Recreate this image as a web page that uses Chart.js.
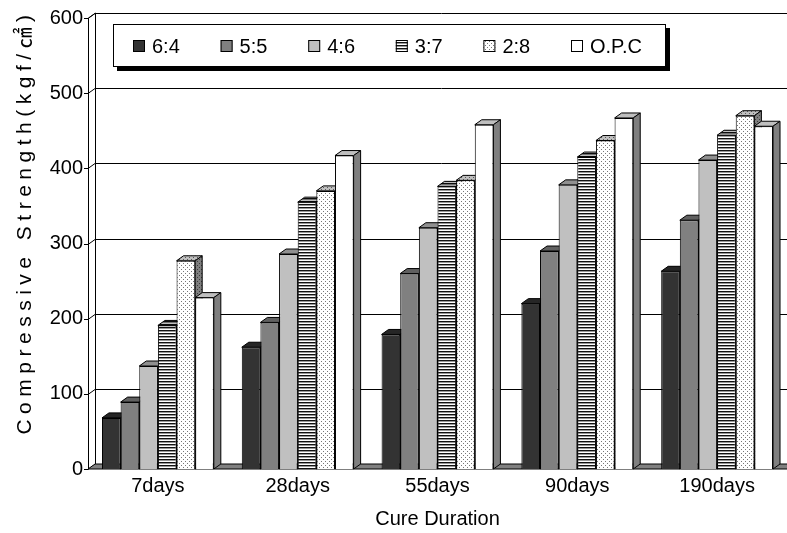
<!DOCTYPE html>
<html>
<head>
<meta charset="utf-8">
<script src="https://cdn.jsdelivr.net/npm/chart.js@4/dist/chart.umd.min.js"></script>
<style>
  html, body { margin: 0; padding: 0; background: #fff; }
</style>
</head>
<body>
<canvas id="chart" width="787" height="533"></canvas>
<script>
const categories = ['7days', '28days', '55days', '90days', '190days'];
const seriesNames = ['6:4', '5:5', '4:6', '3:7', '2:8', 'O.P.C'];
const mix64 = [68, 162, 179, 220, 263];
const mix55 = [89, 195, 260, 290, 331];
const mix46 = [137, 286, 321, 378, 411];
const mix37 = [191, 355, 376, 415, 444];
const mix28 = [277, 370, 384, 437, 470];
const opc = [228, 417, 458, 467, 456];
const yTicks = [0, 100, 200, 300, 400, 500, 600];

const FONT = '"Liberation Sans", Arial, "Noto Sans CJK KR", sans-serif';
const dx = 7, dy = -5; // fake 3D depth

function makeTile(w, h, draw) {
    const c = document.createElement('canvas');
    c.width = w; c.height = h;
    const g = c.getContext('2d');
    draw(g);
    return g.createPattern(c, 'repeat');
}

const stripes = makeTile(1, 3, g => {
    g.fillStyle = '#fff'; g.fillRect(0, 0, 1, 3);
    g.fillStyle = '#111'; g.fillRect(0, 0, 1, 1);
    g.fillStyle = '#999'; g.fillRect(0, 1, 1, 1);
});
const dots = makeTile(4, 4, g => {
    g.fillStyle = '#fff'; g.fillRect(0, 0, 4, 4);
    g.fillStyle = '#777';
    g.fillRect(1, 1, 1, 1);
    g.fillRect(3, 3, 1, 1);
});

const fills = ['#333333', '#808080', '#c0c0c0', stripes, dots, '#ffffff'];
const seriesData = [mix64, mix55, mix46, mix37, mix28, opc];

function face(ctx, pts, fill, shade) {
    ctx.beginPath();
    ctx.moveTo(pts[0][0], pts[0][1]);
    for (let i = 1; i < pts.length; i++) ctx.lineTo(pts[i][0], pts[i][1]);
    ctx.closePath();
    ctx.fillStyle = fill;
    ctx.fill();
    if (shade) {
        ctx.fillStyle = `rgba(0,0,0,${shade})`;
        ctx.fill();
    }
    ctx.stroke();
}

// back wall, floor, gridlines and the top/side faces of every bar
const depthPlugin = {
    id: 'depth',
    beforeDatasetsDraw(chart) {
        const { ctx, chartArea: a, scales: { y } } = chart;
        const base = y.getPixelForValue(0);
        const top = y.getPixelForValue(y.max);
        ctx.save();
        ctx.lineWidth = 1;
        ctx.strokeStyle = '#000';

        y.ticks.forEach(t => {
            const py = Math.round(y.getPixelForValue(t.value)) + 0.5;
            ctx.beginPath();
            ctx.moveTo(a.left + dx, py + dy);
            ctx.lineTo(a.right + dx, py + dy);
            ctx.moveTo(a.left, py);
            ctx.lineTo(a.left + dx, py + dy);
            ctx.moveTo(a.left - 4, py);
            ctx.lineTo(a.left, py);
            ctx.stroke();
        });

        // left wall edges
        ctx.beginPath();
        ctx.moveTo(a.left + 0.5, base);
        ctx.lineTo(a.left + 0.5, top);
        ctx.lineTo(a.left + dx + 0.5, top + dy);
        ctx.lineTo(a.left + dx + 0.5, base + dy);
        ctx.stroke();

        // floor
        face(ctx, [[a.left, base], [a.left + dx, base + dy], [a.right + dx, base + dy], [a.right, base]], '#808080', 0);

        chart.data.datasets.forEach((ds, i) => {
            const meta = chart.getDatasetMeta(i);
            meta.data.forEach(bar => {
                const p = bar.getProps(['x', 'y', 'width', 'base'], true);
                const l = p.x - p.width / 2, r = p.x + p.width / 2;
                face(ctx, [[l, p.y], [l + dx, p.y + dy], [r + dx, p.y + dy], [r, p.y]], ds.backgroundColor, 0.25);
                face(ctx, [[r, p.y], [r + dx, p.y + dy], [r + dx, p.base + dy], [r, p.base]], ds.backgroundColor, 0.5);
            });
        });
        ctx.restore();
    }
};

const boxLegend = {
    id: 'boxLegend',
    afterDraw(chart) {
        const ctx = chart.ctx;
        const bx = 113, by = 24, bw = 553, bh = 43;
        ctx.save();
        ctx.fillStyle = '#000';
        ctx.fillRect(bx + 4, by + 4, bw, bh);
        ctx.fillStyle = '#fff';
        ctx.fillRect(bx, by, bw, bh);
        ctx.strokeStyle = '#000';
        ctx.lineWidth = 1;
        ctx.strokeRect(bx + 0.5, by + 0.5, bw - 1, bh - 1);

        ctx.font = '20px ' + FONT;
        ctx.textBaseline = 'middle';
        chart.data.datasets.forEach((ds, i) => {
            const x = 133 + i * 87.6;
            ctx.fillStyle = ds.backgroundColor;
            ctx.fillRect(x, 40, 12, 12);
            ctx.strokeRect(x + 0.5, 40.5, 11, 11);
            ctx.fillStyle = '#000';
            ctx.fillText(ds.label, x + 19, 47);
        });
        ctx.restore();
    }
};

const yTitle = {
    id: 'yTitle',
    afterDraw(chart) {
        const ctx = chart.ctx;
        ctx.save();
        ctx.translate(25, 222);
        ctx.rotate(-Math.PI / 2);
        ctx.font = '21px ' + FONT;
        ctx.letterSpacing = '5.5px';
        ctx.fillStyle = '#000';
        ctx.textAlign = 'center';
        ctx.textBaseline = 'middle';
        ctx.fillText('Compressive Strength(kgf/㎠)', 0, 0);
        ctx.restore();
    }
};

new Chart(document.getElementById('chart'), {
    type: 'bar',
    data: {
        labels: categories,
        datasets: seriesNames.map((name, i) => ({
            label: name,
            data: seriesData[i],
            backgroundColor: fills[i],
            borderColor: '#000',
            borderWidth: 1,
            categoryPercentage: 0.8,
            barPercentage: 1.0
        }))
    },
    options: {
        responsive: false,
        animation: false,
        devicePixelRatio: 1,
        layout: { padding: { top: 18, right: 0, bottom: 0, left: 0 } },
        plugins: {
            legend: { display: false },
            tooltip: { enabled: false }
        },
        scales: {
            x: {
                grid: { display: false, drawTicks: false },
                border: { display: false },
                ticks: { color: '#000', font: { size: 20, family: FONT }, padding: 5 },
                title: {
                    display: true, text: 'Cure Duration', color: '#000',
                    font: { size: 20, family: FONT }, padding: { top: 0, bottom: 2 }
                },
                afterFit(scale) { scale.height = 64; }
            },
            y: {
                min: yTicks[0],
                max: yTicks[yTicks.length - 1],
                afterBuildTicks(scale) { scale.ticks = yTicks.map(v => ({ value: v })); },
                grid: { display: false, drawTicks: false },
                border: { display: false },
                ticks: { color: '#000', font: { size: 20, family: FONT }, padding: 5 },
                afterFit(scale) { scale.width = 88; }
            }
        }
    },
    plugins: [depthPlugin, boxLegend, yTitle]
});
</script>
</body>
</html>
